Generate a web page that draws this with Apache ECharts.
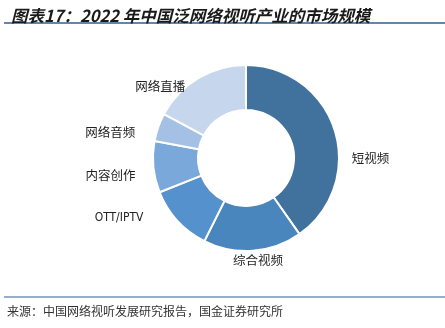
<!DOCTYPE html>
<html>
<head>
<meta charset="utf-8">
<script src="https://cdn.jsdelivr.net/npm/echarts@6/dist/echarts.min.js"></script>
<style>
html,body{margin:0;padding:0;background:#fff;}
#c{width:445px;height:328px;}
</style>
</head>
<body>
<div id="c"></div>
<script>
// Data (estimated, 亿元)
const categories = ['短视频', '综合视频', 'OTT/IPTV', '内容创作', '网络音频', '网络直播'];
const values = [2928, 1247, 845, 650, 355, 1250];

// Styling (kept separate from data)
const colors = ['#41719d', '#4a86be', '#5592cd', '#7aa8da', '#a4c1e5', '#c5d6ed'];
const labelOffsets = [[12, 28], [-25, 10], [-29, -3], [-13, 8], [-18, 5], [-8, 8]];

const chart = echarts.init(document.getElementById('c'), null, {renderer: 'canvas'});
const cjk = '"Noto Sans CJK SC", "Noto Sans", sans-serif';

chart.setOption({
  animation: false,
  title: {
    text: '图表17：2022 年中国泛网络视听产业的市场规模',
    left: 6,
    top: 2,
    textStyle: {fontFamily: cjk, fontSize: 16.5, fontWeight: 'bold', fontStyle: 'italic', color: '#1a1a1a'}
  },
  graphic: [
    {type: 'line', shape: {x1: 4, y1: 23, x2: 445, y2: 23}, style: {stroke: '#2f5f8f', lineWidth: 1.5}},
    {type: 'line', shape: {x1: 4, y1: 297, x2: 445, y2: 297}, style: {stroke: '#2f5f8f', lineWidth: 1.2}},
    {type: 'text', left: 7, top: 305, style: {text: '来源：中国网络视听发展研究报告，国金证券研究所', font: '12px ' + cjk, fill: '#333'}}
  ],
  series: [{
    type: 'pie',
    center: [246, 158],
    radius: [48, 93],
    startAngle: 90,
    clockwise: true,
    avoidLabelOverlap: false,
    itemStyle: {borderColor: '#fff', borderWidth: 2},
    label: {
      show: true,
      position: 'outside',
      fontFamily: cjk,
      fontSize: 12.5,
      color: '#222',
      distanceToLabelLine: 5
    },
    labelLine: {show: false, length: 0, length2: 0},
    labelLayout: function (p) {
      const o = labelOffsets[p.dataIndex];
      return {dx: o[0], dy: o[1]};
    },
    emphasis: {disabled: true},
    data: categories.map((n, i) => ({
      name: n,
      value: values[i],
      itemStyle: {color: colors[i]},
      label: n === 'OTT/IPTV' ? {fontFamily: '"Liberation Sans Narrow", "DejaVu Sans Condensed", sans-serif', fontSize: 12} : undefined
    }))
  }]
});
</script>
</body>
</html>
